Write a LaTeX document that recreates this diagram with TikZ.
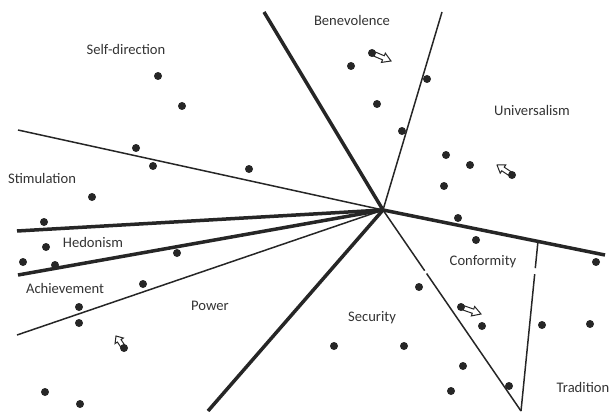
\documentclass[tikz,border=0pt]{standalone}
\usepackage{fontspec}
\setmainfont{Carlito}
\usetikzlibrary{calc}

\tikzset{
  thickline/.style={line width=3.5pt, draw=black!85},
  thinline/.style={line width=1.5pt, draw=black!85},
  dot/.style={circle, fill=black!85, inner sep=0pt, minimum size=8pt},
  valuelabel/.style={text=black!80, font=\fontsize{14.6}{17}\selectfont, inner sep=0pt},
  hollow/.style={draw=black!85, line width=1pt, fill=white, line join=miter}
}

\begin{document}
\begin{tikzpicture}[x=1pt, y=-1pt]
            \useasboundingbox (0,0) rectangle (611,412);
            % centre and ends of the dividing lines
            \coordinate (c)  at (383,210);
            \coordinate (e1) at (264,12);
            \coordinate (e2) at (442,12);
            \coordinate (e3) at (18,130);
            \coordinate (e4) at (17,231);
            \coordinate (e5) at (18,275);
            \coordinate (e6) at (17,335);
            \coordinate (e7) at (208,411);
            \coordinate (e8) at (521,411);
            \coordinate (e9) at (605,255);
            \coordinate (t1) at (538,241);
            \coordinate (t2) at (521,411);

            \draw[thickline] (c) -- (e1);
            \draw[thinline]  (c) -- (e2);
            \draw[thinline]  (c) -- (e3);
            \draw[thickline] (c) -- (e4);
            \draw[thickline] (c) -- (e5);
            \draw[thinline]  (c) -- (e6);
            \draw[thickline] (c) -- (e7);
            \draw[thinline]  (c) -- ($(c)!0.302!(e8)$);
            \draw[thinline]  ($(c)!0.316!(e8)$) -- (e8);
            \draw[thickline] (c) -- (e9);
            \draw[thinline]  (t1) -- ($(t1)!0.16!(t2)$);
            \draw[thinline]  ($(t1)!0.195!(t2)$) -- (t2);

            % labels
            \node[valuelabel] (ben)  at (352,20)  {Benevolence};
            \node[valuelabel] (self) at (126,49)  {Self-direction};
            \node[valuelabel] (uni)  at (532,110) {Universalism};
            \node[valuelabel] (stim) at (42,178)  {Stimulation};
            \node[valuelabel] (hed)  at (93,242)  {Hedonism};
            \node[valuelabel] (ach)  at (65,288)  {Achievement};
            \node[valuelabel] (pow)  at (210,306) {Power};
            \node[valuelabel] (sec)  at (372,318) {Security};
            \node[valuelabel] (conf) at (483,262) {Conformity};
            \node[valuelabel] (trad) at (583,387) {Tradition};

            % hollow arrows, drawn before the dots
            \coordinate (tip1) at (391,61);
            \coordinate (tip2) at (497,165);
            \coordinate (tip3) at (481,314);
            \coordinate (tip4) at (116,336);
            \foreach \n/\x/\y/\t in {b1/372/53/tip1, u4/512/175/tip2, f2/461/307/tip3, p1/124/348/tip4}{
              \coordinate (\n base) at (\x,\y);
              \draw[hollow] ($(\n base)!2.2pt!90:(\t)$)
                  -- ($(\n base)!0.6!(\t)!2.2pt!90:(\t)$)
                  -- ($(\n base)!0.6!(\t)!5pt!90:(\t)$)
                  -- (\t)
                  -- ($(\n base)!0.6!(\t)!5pt!-90:(\t)$)
                  -- ($(\n base)!0.6!(\t)!2.2pt!-90:(\t)$)
                  -- ($(\n base)!2.2pt!-90:(\t)$) -- cycle;
            }

            % dots
            \foreach \n/\x/\y in {b1/372/53, b2/351/66, b3/427/79, b4/377/104, b5/402/131,
                                  s1/158/76, s2/182/106, s3/136/148, s4/153/166, s5/249/169,
                                  m1/92/197, m2/44/222,
                                  u1/446/155, u2/470/165, u3/444/186, u4/512/175, u5/458/218, u6/476/240,
                                  h1/46/247, h2/23/262, h3/55/265, h4/177/253,
                                  a1/143/284, a2/79/307, a3/79/323,
                                  p1/124/348, p2/45/392, p3/80/404,
                                  f1/419/287, f2/461/307, f3/482/326,
                                  r1/334/346, r2/404/346, r3/463/366, r4/451/391,
                                  d1/596/262, d2/542/325, d3/590/324, d4/509/386}
              \node[dot] (\n) at (\x,\y) {};
        \end{tikzpicture}
\end{document}
